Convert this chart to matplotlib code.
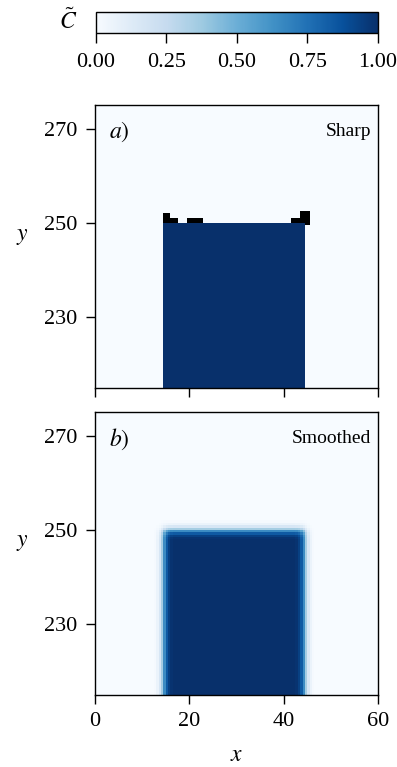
import numpy as np
import matplotlib.pyplot as plt
import matplotlib as mpl

plt.rcParams['font.family'] = ['Liberation Serif', 'DejaVu Serif']
plt.rcParams['mathtext.fontset'] = 'stix'
plt.rcParams['font.size'] = 16

# grid (cell edges) and block geometry
dx = 0.5
x_lim = [0, 60]
y_lim = [215, 275]
block_x = [14.5, 44.5]
block_top = 250.0
# cells above the block that overshoot C > 1  (x0, x1, y0, y1)
over_boxes = [
    (14.5, 16.0, 250.0, 252.0),
    (16.0, 17.5, 250.0, 251.0),
    (19.5, 23.0, 250.0, 251.0),
    (41.5, 45.5, 250.0, 251.0),
    (43.5, 45.5, 251.0, 252.5),
    (44.5, 45.5, 249.5, 250.0),
]
over_value = 1.3
# smoothing stencil weights (applied along x then y)
stencil = [0.05, 0.15, 0.35, 0.65, 1.0, 0.65, 0.35, 0.15, 0.05]

xe = np.arange(x_lim[0], x_lim[1] + dx / 2, dx)
ye = np.arange(y_lim[0], y_lim[1] + dx / 2, dx)
xc = 0.5 * (xe[1:] + xe[:-1])
yc = 0.5 * (ye[1:] + ye[:-1])
X, Y = np.meshgrid(xc, yc)

block = ((X > block_x[0]) & (X < block_x[1]) & (Y < block_top)).astype(float)

sharp = block.copy()
for x0, x1, y0, y1 in over_boxes:
    sharp[(X > x0) & (X < x1) & (Y > y0) & (Y < y1)] = over_value

w = np.array(stencil) / np.sum(stencil)
h = len(w) // 2
smooth = np.pad(block, h, mode='edge')
smooth = np.apply_along_axis(lambda r: np.convolve(r, w, mode='same'), 1, smooth)
smooth = np.apply_along_axis(lambda r: np.convolve(r, w, mode='same'), 0, smooth)
smooth = smooth[h:-h, h:-h]

cmap = mpl.colormaps['Blues'].copy()
cmap.set_over('black')
norm = mpl.colors.Normalize(0, 1)

fig = plt.figure(figsize=(3.97, 7.67), dpi=100)
ax1 = fig.add_axes([0.2393, 0.4941, 0.7128, 0.369])
ax2 = fig.add_axes([0.2393, 0.0939, 0.7128, 0.369])
cax = fig.add_axes([0.2418, 0.957, 0.7103, 0.0274])

for ax, field, tag, name in [(ax1, sharp, '$a)$', 'Sharp'), (ax2, smooth, '$b)$', 'Smoothed')]:
    m = ax.pcolormesh(xe, ye, field, cmap=cmap, norm=norm, shading='flat', rasterized=True)
    ax.set_xlim(x_lim)
    ax.set_ylim(y_lim)
    ax.set_xticks([0, 20, 40, 60])
    ax.set_yticks([230, 250, 270])
    ax.set_ylabel('$y$', rotation=0, labelpad=16, fontsize=17)
    ax.tick_params(direction='out', length=6.5, width=1.0, pad=6)
    for s in ax.spines.values():
        s.set_linewidth(1.0)
    ax.text(0.05, 0.905, tag, transform=ax.transAxes, fontsize=17, va='center', ha='left')
    ax.text(0.975, 0.905, name, transform=ax.transAxes, fontsize=14, va='center', ha='right')

ax1.tick_params(labelbottom=False)
ax2.set_xlabel('$x$', labelpad=10, fontsize=17)

cb = fig.colorbar(m, cax=cax, orientation='horizontal')
cb.set_ticks([0, 0.25, 0.5, 0.75, 1.0])
cb.ax.set_xticklabels(['0.00', '0.25', '0.50', '0.75', '1.00'])
cb.ax.tick_params(direction='out', length=7.5, width=1.0, pad=7)
cb.outline.set_linewidth(1.0)
fig.text(0.172, 0.972, r'$\tilde{C}$', fontsize=17, ha='center', va='center')

fig.savefig('out.png', dpi=100)
